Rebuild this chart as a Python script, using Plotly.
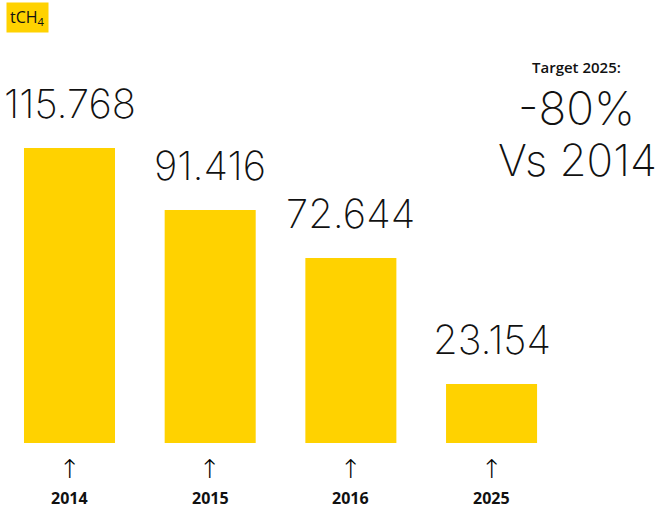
import plotly.graph_objects as go

years = ["2014", "2015", "2016", "2025"]
values = [115.768, 91.416, 72.644, 23.154]
value_labels = ["115.768", "91.416", "72.644", "23.154"]
unit_label = "tCH<sub>4</sub>"
target_title = "Target 2025:"
target_value = "-80%"
target_ref = "Vs 2014"

YELLOW = "#FFD200"
W, H = 657, 509
T, B = 20, 66
plot_h = H - T - B
xs = list(range(len(years)))
THIN = dict(family="Inter", color="#111", weight=200)

def py(p):
    return (H - B - p) / plot_h

fig = go.Figure()
fig.add_trace(go.Bar(x=xs, y=values, width=0.647, marker=dict(color=YELLOW, line=dict(width=0)),
                     hoverinfo="skip"))

ann = []
for x, v, lab, yr in zip(xs, values, value_labels, years):
    ann.append(dict(x=x, y=v, xref="x", yref="y", text=lab, showarrow=False, yanchor="bottom",
                    xanchor="center", yshift=18, font=dict(size=40, **THIN)))
    ann.append(dict(x=x, y=py(469), xref="x", yref="paper", text="↑", showarrow=False,
                    xanchor="center", yanchor="middle",
                    font=dict(family="DejaVu Sans", size=26, color="#000000", weight=200)))
    ann.append(dict(x=x, y=py(498), xref="x", yref="paper", text="<b>" + yr + "</b>", showarrow=False,
                    xanchor="center", yanchor="middle", borderpad=0,
                    font=dict(family="Open Sans", size=16, color="#111")))

ann.append(dict(x=27 / W, y=py(18), xref="paper", yref="paper", text=unit_label, showarrow=False,
                xanchor="center", yanchor="middle", bgcolor=YELLOW, borderpad=3,
                font=dict(family="Open Sans", size=16, color="#111")))
ann.append(dict(x=576 / W, y=py(67), xref="paper", yref="paper", text=target_title, showarrow=False,
                xanchor="center", yanchor="middle",
                font=dict(family="Open Sans", size=15, color="#111", weight=600)))
ann.append(dict(x=576 / W, y=py(108), xref="paper", yref="paper", text=target_value, showarrow=False,
                xanchor="center", yanchor="middle", font=dict(size=46, **THIN)))
ann.append(dict(x=577 / W, y=py(160), xref="paper", yref="paper", text=target_ref, showarrow=False,
                xanchor="center", yanchor="middle", font=dict(size=44, **THIN)))

fig.update_layout(
    width=W, height=H,
    margin=dict(l=0, r=0, t=T, b=B),
    paper_bgcolor="white", plot_bgcolor="white",
    showlegend=False,
    xaxis=dict(range=[-0.494, 4.176], showticklabels=False, showgrid=False, zeroline=False,
               showline=False, fixedrange=True),
    yaxis=dict(range=[0, 166], visible=False, showgrid=False, zeroline=False, fixedrange=True),
    annotations=ann,
)
fig.write_html("out.html", config={"displayModeBar": False},
               post_script="document.body.style.margin='0';")
